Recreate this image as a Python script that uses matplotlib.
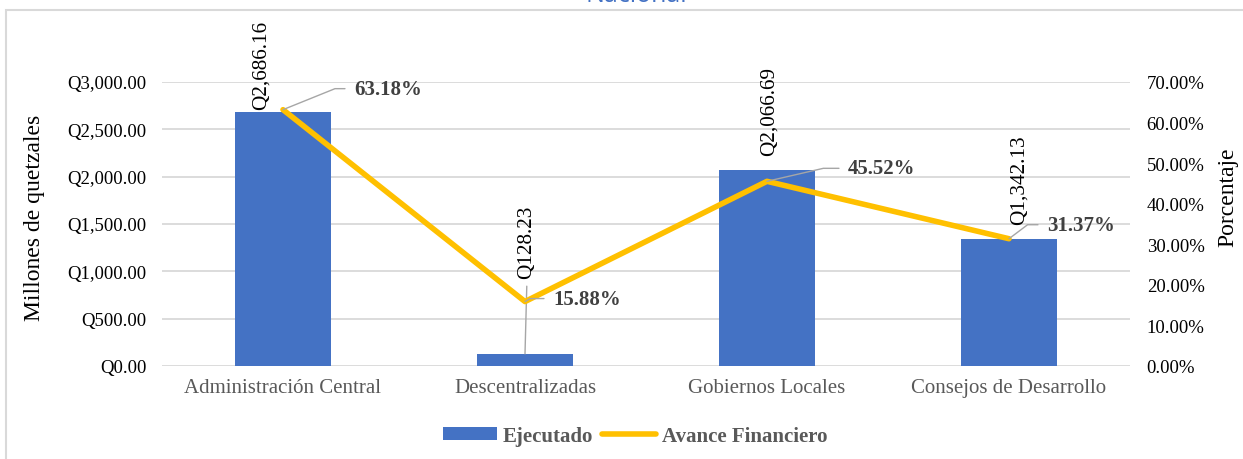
"""Ejecutado vs avance financiero por tipo de entidad."""

import matplotlib
matplotlib.use("Agg")
import matplotlib.pyplot as plt
from matplotlib.patches import Rectangle

categorias = ["Administración Central", "Descentralizadas", "Gobiernos Locales", "Consejos de Desarrollo"]
ejecutado = [2686.16, 128.23, 2066.69, 1342.13]
avance = [63.18, 15.88, 45.52, 31.37]
ticks_q = [0, 500, 1000, 1500, 2000, 2500, 3000]
ticks_pct = [0, 10, 20, 30, 40, 50, 60, 70]

AZUL = "#4472C4"
AMARILLO = "#FFC000"
GRIS_LINEA = "#A6A6A6"

# label offsets in pixels (dx, dy)
off_barras = [(-22, 3), (2, 76), (2, 15), (10, 15)]
off_pct = [(71, 21), (28, 3), (81, 13), (38, 14)]
ang_pct = [22, 30, 13, 37]

plt.rcParams["font.family"] = ["Liberation Serif", "DejaVu Serif"]

fig, ax = plt.subplots(figsize=(12.43, 4.6), dpi=100)
fig.subplots_adjust(left=162 / 1243, right=1130 / 1243, bottom=1 - 367 / 460, top=1 - 83 / 460)

x = range(len(categorias))
ax.bar(x, ejecutado, width=0.4, color=AZUL, label="Ejecutado", zorder=2)
ax.set_xlim(-0.5, len(categorias) - 0.5)
ax.set_ylim(0, 3000)
ax.set_yticks(ticks_q)
ax.set_yticklabels([f"Q{v:,.2f}" for v in ticks_q], fontsize=13.5)
ax.set_xticks(list(x))
ax.set_xticklabels(categorias, fontsize=15, color="#595959")
ax.tick_params(axis="both", length=0)
ax.tick_params(axis="y", pad=11)
ax.tick_params(axis="x", pad=9)
ax.grid(axis="y", color="#D9D9D9", lw=1.3)
ax.set_axisbelow(True)
for s in ax.spines.values():
    s.set_visible(False)
ax.text(-0.1312, 0.5246, "Millones de quetzales", transform=ax.transAxes, rotation=90,
        ha="center", va="center", fontsize=17)

for i, (v, (dx, dy)) in enumerate(zip(ejecutado, off_barras)):
    arrow = None
    if dy > 40:
        arrow = dict(arrowstyle="-", color=GRIS_LINEA, lw=1, relpos=(0.5, 0), shrinkA=4, shrinkB=0)
    ax.annotate(f"Q{v:,.2f}", xy=(i, v), xytext=(dx, dy), textcoords="offset pixels",
                rotation=90, ha="center", va="bottom", fontsize=15.3, arrowprops=arrow)

ax2 = ax.twinx()
ax2.plot(list(x), avance, color=AMARILLO, lw=4, label="Avance Financiero",
         solid_joinstyle="round", solid_capstyle="round", zorder=3)
ax2.set_ylim(0, 70)
ax2.set_yticks(ticks_pct)
ax2.set_yticklabels([f"{v:.2f}%" for v in ticks_pct], fontsize=13.5)
ax2.tick_params(axis="y", length=0, pad=12)
for s in ax2.spines.values():
    s.set_visible(False)
ax2.text(1.101, 0.5986, "Porcentaje", transform=ax2.transAxes, rotation=90,
         ha="center", va="center", fontsize=17)

for i, (p, (dx, dy), ang) in enumerate(zip(avance, off_pct, ang_pct)):
    ax2.annotate(f"{p:.2f}%", xy=(i, p), xytext=(dx, dy), textcoords="offset pixels",
                 ha="left", va="center", fontsize=15, fontweight="bold", color="#404040",
                 arrowprops=dict(arrowstyle="-", color=GRIS_LINEA, lw=1, relpos=(0, 0.5),
                                 patchA=None, shrinkA=6.5, shrinkB=0,
                                 connectionstyle=f"angle,angleA=0,angleB={ang},rad=0"))

h1, l1 = ax.get_legend_handles_labels()
h2, l2 = ax2.get_legend_handles_labels()
fig.legend(h1 + h2, l1 + l2, loc="center", bbox_to_anchor=(635 / 1243, 1 - 437 / 460),
           ncol=2, frameon=False, handlelength=2.6, handleheight=0.55, handletextpad=0.25,
           columnspacing=0.45, prop={"weight": "bold", "size": 15}, labelcolor="#595959")

# title clipped at the top edge and the chart border
fig.text(636 / 1243, 1 - 1.5 / 460, "Nacional", ha="center", va="baseline", fontsize=18,
         color=AZUL, family="Open Sans")
fig.patches.append(Rectangle((6 / 1243, -0.05), 1.1, 1.05 - 11 / 460, transform=fig.transFigure,
                             fill=False, ec="#D9D9D9", lw=1.5))

fig.savefig("out.png", dpi=100)
